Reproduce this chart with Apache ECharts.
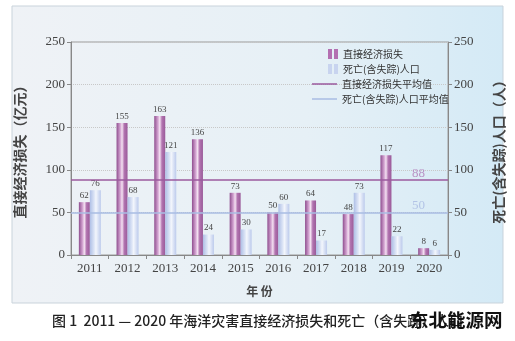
<!DOCTYPE html>
<html><head><meta charset="utf-8">
<script src="https://cdn.jsdelivr.net/npm/echarts@6/dist/echarts.min.js"></script>
<style>html,body{margin:0;padding:0;background:#fff}#c{width:515px;height:341px}</style>
</head><body><div id="c"></div>
<script>
var years = ['2011','2012','2013','2014','2015','2016','2017','2018','2019','2020'];
var lossValues = [62,155,163,136,73,50,64,48,117,8];
var deathValues = [76,68,121,24,30,60,17,73,22,6];
var meanValues = [88, 50];
var yTicks = [0,50,100,150,200,250];
var seriesNames = ['直接经济损失','死亡(含失踪)人口','直接经济损失平均值','死亡(含失踪)人口平均值'];

var chart = echarts.init(document.getElementById('c'), null, {renderer:'canvas'});
var G = echarts.graphic;
var serif = 'Liberation Serif';
var cjk = 'Noto Sans CJK SC';
var purpleGrad = new G.LinearGradient(0,0,1,0,[
  {offset:0,color:'#8f4e8f'},{offset:0.35,color:'#d6a8d4'},{offset:0.5,color:'#f4e2f2'},{offset:0.7,color:'#b274b0'},{offset:1,color:'#9a5a99'}]);
var blueGrad = new G.LinearGradient(0,0,1,0,[
  {offset:0,color:'#aebfe6'},{offset:0.4,color:'#dde5f6'},{offset:0.55,color:'#f3f6fc'},{offset:1,color:'#bccaec'}]);
var axisLabel = {fontFamily:serif,fontSize:13,color:'#444',margin:6};
var barLabel = {show:true,position:'top',distance:2,fontFamily:serif,fontSize:9,color:'#444'};
var legendText = {fontFamily:cjk,fontSize:10,color:'#333',lineHeight:10};

chart.setOption({
  animation:false,
  graphic:[
    {type:'rect',z:-10,shape:{x:12,y:6,width:491,height:297},
      style:{fill:new G.LinearGradient(0,0,1,0,[{offset:0,color:'#eff2f6'},{offset:0.6,color:'#e6f0f6'},{offset:1,color:'#d4eaf6'}]),stroke:'#c9d3db',lineWidth:1}},
    {type:'text',left:52,top:314,style:{text:'图 1  2011 — 2020 年海洋灾害直接经济损失和死亡（含失踪）人口',font:'500 14px "Noto Sans CJK SC"',fill:'#222'}},
    {type:'text',left:410,top:311,z:100,style:{text:'东北能源网',font:'bold 18.5px "Noto Sans CJK SC"',fill:'#111'}}
  ],
  grid:{left:71,right:67,top:42,bottom:86,show:true,borderColor:'#9a9a9a',borderWidth:1,backgroundColor:'transparent'},
  legend:[
    {left:323,top:44,orient:'vertical',itemWidth:10,itemHeight:10,itemGap:5,
      textStyle:legendText,
      data:[{name:seriesNames[0],icon:'path://M0,0h4v10h-4zM6,0h4v10h-4z',itemStyle:{color:'#b36fb1'}},
            {name:seriesNames[1],icon:'path://M0,0h4v10h-4zM6,0h4v10h-4z',itemStyle:{color:'#c8d4ef'}}]},
    {left:307,top:74,orient:'vertical',itemWidth:25,itemHeight:1.5,itemGap:5,
      textStyle:legendText,
      data:[{name:seriesNames[2],icon:'rect',itemStyle:{color:'#9b5a9e'}},
            {name:seriesNames[3],icon:'rect',itemStyle:{color:'#a9bde3'}}]}
  ],
  xAxis:{type:'category',data:years,
    name:'年 份',nameLocation:'middle',nameGap:30,nameTextStyle:{fontFamily:cjk,fontSize:12,fontWeight:'bold',color:'#444'},
    axisLine:{lineStyle:{color:'#888'}},axisTick:{show:true,length:4,lineStyle:{color:'#888'}},
    axisLabel:{fontFamily:serif,fontSize:13,color:'#444',margin:7}},
  yAxis:[
    {type:'value',min:yTicks[0],max:yTicks[yTicks.length-1],interval:50,
      name:'直接经济损失（亿元）',nameLocation:'middle',nameGap:44,nameRotate:90,
      nameTextStyle:{fontFamily:cjk,fontSize:14,fontWeight:'bold',color:'#444'},
      axisLine:{show:true,lineStyle:{color:'#888'}},axisTick:{show:true,length:4,lineStyle:{color:'#888'}},
      axisLabel:axisLabel,splitLine:{show:true,lineStyle:{color:'#c8c8c8',type:'dotted'}}},
    {type:'value',min:yTicks[0],max:yTicks[yTicks.length-1],interval:50,position:'right',
      name:'死亡(含失踪)人口（人）',nameLocation:'middle',nameGap:44,nameRotate:90,
      nameTextStyle:{fontFamily:cjk,fontSize:14,fontWeight:'bold',color:'#444'},
      axisLine:{show:true,lineStyle:{color:'#888'}},axisTick:{show:true,length:4,lineStyle:{color:'#888'}},
      axisLabel:axisLabel,splitLine:{show:false}}
  ],
  series:[
    {name:seriesNames[0],type:'bar',yAxisIndex:0,data:lossValues,barWidth:11,barGap:'0%',
      itemStyle:{color:purpleGrad},label:barLabel},
    {name:seriesNames[1],type:'bar',yAxisIndex:1,data:deathValues,barWidth:11,barGap:'0%',
      itemStyle:{color:blueGrad},label:barLabel},
    {name:seriesNames[2],type:'line',yAxisIndex:0,data:[],symbol:'none',color:'#9b5a9e',lineStyle:{color:'#9b5a9e',width:1.5},
      markLine:{silent:true,symbol:'none',lineStyle:{color:'#9b5a9e',width:1.5,type:'solid'},
        label:{show:true,position:'insideEndTop',distance:[23,0],fontFamily:serif,fontSize:13,color:'#b992c4',formatter:'{c}'},
        data:[{yAxis:meanValues[0]}]}},
    {name:seriesNames[3],type:'line',yAxisIndex:1,data:[],symbol:'none',color:'#a9bde3',lineStyle:{color:'#a9bde3',width:1.5},
      markLine:{silent:true,symbol:'none',lineStyle:{color:'#a9bde3',width:1.5,type:'solid'},
        label:{show:true,position:'insideEndTop',distance:[23,0],fontFamily:serif,fontSize:13,color:'#b3c4e6',formatter:'{c}'},
        data:[{yAxis:meanValues[1]}]}}
  ]
});
</script></body></html>
